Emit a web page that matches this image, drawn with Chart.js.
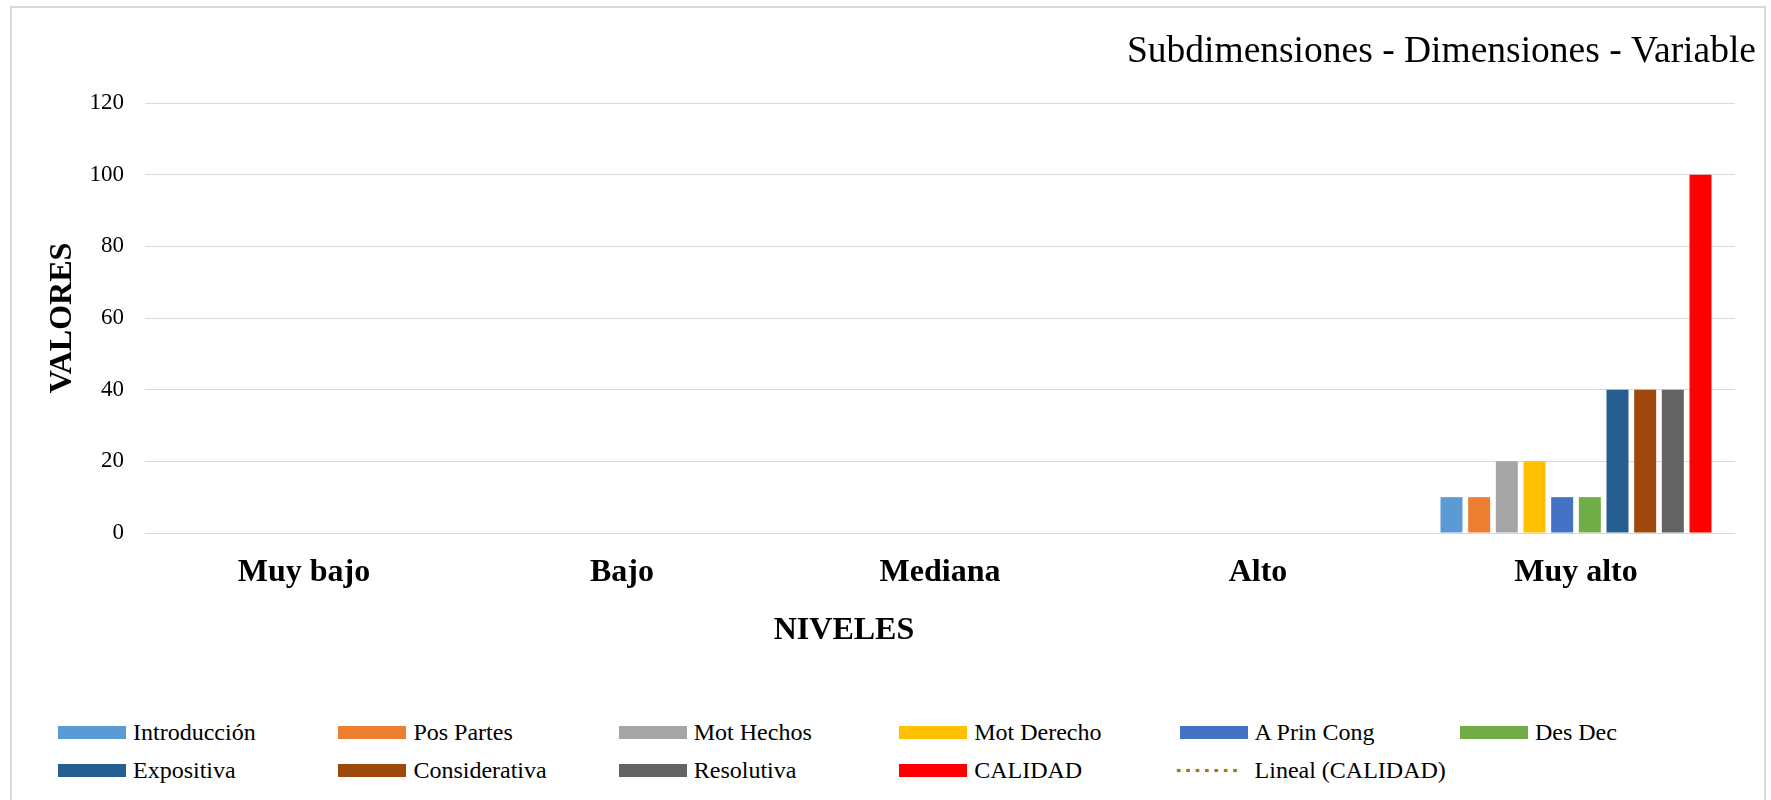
<!DOCTYPE html>
<html>
<head>
<meta charset="utf-8">
<script src="https://cdn.jsdelivr.net/npm/chart.js@4/dist/chart.umd.min.js"></script>
<style>
  html, body { margin: 0; padding: 0; background: #fff; width: 1771px; height: 800px; overflow: hidden; }
  #frame { position: absolute; left: 10px; top: 6px; width: 1756px; height: 820px; border: 2px solid #d9d9d9; box-sizing: border-box; background: #fff; }
  #chart { position: absolute; left: 0; top: 0; width: 1771px; height: 700px; }
  #legend { position: absolute; left: 58px; top: 713px; display: grid; grid-template-columns: repeat(6, 280.4px); grid-auto-rows: 38.5px;
            font-family: 'Liberation Serif', 'Times New Roman', serif; font-size: 24px; color: #000; }
  .item { display: flex; align-items: center; white-space: nowrap; }
  .sw { display: inline-block; width: 68px; height: 13px; margin-right: 7px; flex: none; }
  .dots { width: 68px; height: 13px; margin-left: -6px; margin-right: 13px;
          background-image: radial-gradient(circle, var(--c) 1.7px, transparent 2.1px);
          background-size: 9.4px 13px; background-repeat: repeat-x; background-position: 0 0; }
</style>
</head>
<body>
<div id="frame"></div>
<canvas id="chart" width="1771" height="700"></canvas>
<div id="legend"></div>
<script>
// ---- data ----
const categories = ['Muy bajo', 'Bajo', 'Mediana', 'Alto', 'Muy alto'];
const introduccion  = [0, 0, 0, 0, 10];
const posPartes     = [0, 0, 0, 0, 10];
const motHechos     = [0, 0, 0, 0, 20];
const motDerecho    = [0, 0, 0, 0, 20];
const aPrinCong     = [0, 0, 0, 0, 10];
const desDec        = [0, 0, 0, 0, 10];
const expositiva    = [0, 0, 0, 0, 40];
const considerativa = [0, 0, 0, 0, 40];
const resolutiva    = [0, 0, 0, 0, 40];
const calidad       = [0, 0, 0, 0, 100];
const linealCalidad = [null, null, null, null, null];
const seriesNames = ['Introducción', 'Pos Partes', 'Mot Hechos', 'Mot Derecho', 'A Prin Cong', 'Des Dec',
                     'Expositiva', 'Considerativa', 'Resolutiva', 'CALIDAD'];
const yMin = 0, yMax = 120, yStep = 20;

// ---- styles ----
const colors = ['#5B9BD5', '#ED7D31', '#A5A5A5', '#FFC000', '#4472C4', '#70AD47',
                '#255E91', '#9E480E', '#636363', '#FF0000'];
const trendColor = '#9E7B14';
const SERIF = "'Liberation Serif', 'Times New Roman', serif";

const seriesData = [introduccion, posPartes, motHechos, motDerecho, aPrinCong, desDec,
                    expositiva, considerativa, resolutiva, calidad];
const datasets = seriesData.map((d, i) => ({
  type: 'bar', label: seriesNames[i], data: d, backgroundColor: colors[i], borderWidth: 0,
  categoryPercentage: 0.87, barPercentage: 0.795
}));
datasets.push({
  type: 'line', label: 'Lineal (CALIDAD)', data: linealCalidad, borderColor: trendColor,
  borderDash: [2, 6], borderWidth: 3, pointRadius: 0, fill: false
});

const chart = new Chart(document.getElementById('chart'), {
  type: 'bar',
  data: { labels: categories, datasets },
  options: {
    responsive: false,
    animation: false,
    devicePixelRatio: 1,
    layout: { padding: { left: 0, right: 15, top: 0, bottom: 0 } },
    plugins: {
      legend: { display: false },
      tooltip: { enabled: false },
      title: {
        display: true, text: 'Subdimensiones - Dimensiones - Variable', align: 'end',
        color: '#000', font: { family: SERIF, size: 37.5, weight: 'normal' },
        padding: { top: 29.5, bottom: 28.5 }
      }
    },
    scales: {
      x: {
        type: 'category',
        grid: { display: false, drawTicks: false },
        border: { display: false },
        ticks: { color: '#000', font: { family: SERIF, size: 32, weight: 'bold' }, padding: 21,
                 maxRotation: 0, autoSkip: false },
        title: { display: true, text: 'NIVELES' + '\u00A0'.repeat(24), color: '#000',
                 font: { family: SERIF, size: 32, weight: 'bold' }, padding: { top: 0, bottom: 50 } },
        afterFit: s => { s.height = 167; }
      },
      y: {
        type: 'linear', position: 'left', min: yMin, max: yMax,
        grid: { color: '#d9d9d9', lineWidth: 1, drawTicks: false },
        border: { display: false },
        ticks: { stepSize: yStep, color: '#000', font: { family: SERIF, size: 23 }, padding: 21 },
        title: { display: true, text: 'VALORES', color: '#000',
                 font: { family: SERIF, size: 32, weight: 'bold' }, padding: { top: 44, bottom: 0 } },
        afterFit: s => { s.width = 145; }
      },
      yRight: {
        type: 'linear', position: 'right', display: true,
        grid: { display: false, drawTicks: false }, border: { display: false },
        ticks: { display: false },
        afterFit: s => { s.width = 21; }
      }
    }
  }
});

// ---- HTML legend built from the chart's datasets ----
const legendEl = document.getElementById('legend');
chart.data.datasets.forEach(ds => {
  const item = document.createElement('div');
  item.className = 'item';
  const sw = document.createElement('span');
  if (ds.type === 'line') {
    sw.className = 'dots';
    sw.style.setProperty('--c', ds.borderColor);
  } else {
    sw.className = 'sw';
    sw.style.background = ds.backgroundColor;
  }
  const txt = document.createElement('span');
  txt.textContent = ds.label;
  item.appendChild(sw);
  item.appendChild(txt);
  legendEl.appendChild(item);
});
</script>
</body>
</html>
